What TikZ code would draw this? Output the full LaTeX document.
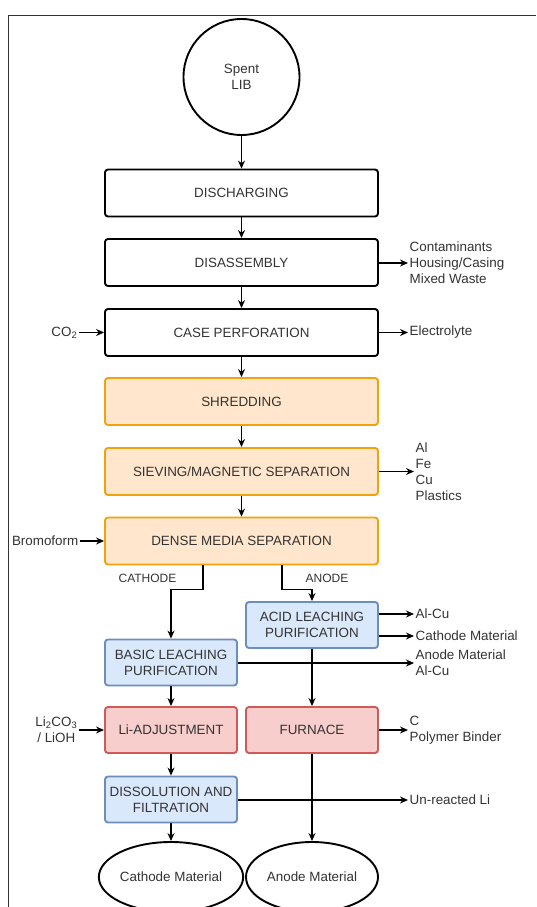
\documentclass[tikz,border=0pt]{standalone}
\usepackage{fontspec}
\setmainfont{Liberation Sans}
\usepackage{xcolor}
\usetikzlibrary{arrows.meta,positioning,calc,shapes.geometric}

\definecolor{txtgray}{HTML}{333333}
\definecolor{orfill}{HTML}{FFE6CC}
\definecolor{ordraw}{HTML}{F0A30A}
\definecolor{blfill}{HTML}{DAE8FC}
\definecolor{bldraw}{HTML}{6C8EBF}
\definecolor{rdfill}{HTML}{F8CECC}
\definecolor{rddraw}{HTML}{D0595A}

\begin{document}
\begin{tikzpicture}[x=1pt, y=-1pt,
    every node/.style={text=txtgray, font=\fontsize{13.4}{16}\selectfont},
    box/.style={rectangle, draw=black, line width=1.9pt, rounded corners=3pt,
                minimum width=273pt, minimum height=47pt, align=center, inner sep=2pt},
    sbox/.style={box, minimum width=132pt, minimum height=46pt},
    orbox/.style={fill=orfill, draw=ordraw},
    blbox/.style={fill=blfill, draw=bldraw},
    rdbox/.style={fill=rdfill, draw=rddraw},
    term/.style={ellipse, draw=black, line width=1.9pt, minimum width=132pt, minimum height=70pt, inner sep=0pt},
    arr/.style={-{Stealth[length=8pt,width=7pt]}, line width=1.1pt},
    outlbl/.style={anchor=west, align=left, inner sep=1.5pt},
    inlbl/.style={anchor=east, align=center, inner sep=1.5pt},
    lbl/.style={font=\fontsize{12}{14}\selectfont},
  ]
  \useasboundingbox (0,0) rectangle (536,907);

  % frame
  \draw[line width=1.5pt, black!80] (8.5,907) -- (8.5,15.5) -- (536,15.5);

  % main column
  \node[circle, draw=black, line width=1.9pt, minimum size=116pt, align=center] (lib) at (241.5,77) {Spent\\LIB};
  \node[box] (dis) at (241.5,193) {DISCHARGING};
  \node[box] (dsa) at (241.5,262.5) {DISASSEMBLY};
  \node[box] (perf) at (241.5,332.5) {CASE PERFORATION};
  \node[box, orbox] (shred) at (241.5,401.5) {SHREDDING};
  \node[box, orbox] (sieve) at (241.5,471.5) {SIEVING/MAGNETIC SEPARATION};
  \node[box, orbox] (dms) at (241.5,541) {DENSE MEDIA SEPARATION};

  % cathode and anode branches
  \node[sbox, blbox] (acid) at (312,625) {ACID LEACHING\\PURIFICATION};
  \node[sbox, blbox] (basic) at (171,662.5) {BASIC LEACHING\\PURIFICATION};
  \node[sbox, rdbox] (liadj) at (171,730) {Li-ADJUSTMENT};
  \node[sbox, rdbox] (furn) at (312,730) {FURNACE};
  \node[sbox, blbox] (diss) at (171,799.5) {DISSOLUTION AND\\FILTRATION};
  \node[term] (cmat) at (171,877) {Cathode Material};
  \node[term] (amat) at (312,877) {Anode Material};

  \node[lbl] (cat) at (147.5,578) {CATHODE};
  \node[lbl] (ano) at (327,578) {ANODE};

  % inputs
  \node[inlbl] (co2) at (79,332.5) {CO\textsubscript{2}};
  \node[inlbl] (brom) at (80,541) {Bromoform};
  \node[inlbl] (li) at (79,730) {Li\textsubscript{2}CO\textsubscript{3}\\/ LiOH};

  % outputs
  \node[outlbl] (waste) at (408,263) {Contaminants\\Housing/Casing\\Mixed Waste};
  \node[outlbl] (elec) at (408,332.5) {Electrolyte};
  \node[outlbl] (metal) at (414,471.5) {Al\\Fe\\Cu\\Plastics};
  \node[outlbl] (alcu) at (414,614) {Al-Cu};
  \node[outlbl] (cmout) at (414,636) {Cathode Material};
  \node[outlbl] (amout) at (414,663) {Anode Material\\Al-Cu};
  \node[outlbl] (binder) at (408,730) {C\\Polymer Binder};
  \node[outlbl] (unli) at (408,800) {Un-reacted Li};

  \draw[arr] (lib) -- (dis);
  \draw[arr] (dis) -- (dsa);
  \draw[arr] (dsa) -- (perf);
  \draw[arr] (perf) -- (shred);
  \draw[arr] (shred) -- (sieve);
  \draw[arr] (sieve) -- (dms);
  \draw[arr] ([xshift=-38.5pt]dms.south) -- ++(0,24) -| (basic.north);
  \draw[arr] ([xshift=40.5pt]dms.south) -- ++(0,24) -| (acid.north);
  \draw[arr] (basic) -- (liadj);
  \draw[arr] (liadj) -- (diss);
  \draw[arr] (diss) -- (cmat);
  \draw[arr] (acid) -- (furn);
  \draw[arr] (furn) -- (amat);

  \draw[arr] (co2) -- (perf);
  \draw[arr] (brom) -- (dms);
  \draw[arr] (li) -- (liadj);

  \draw[arr] (dsa.east |- waste) -- (waste);
  \draw[arr] (perf) -- (elec);
  \draw[arr] (sieve) -- (metal);
  \draw[arr] (acid.east |- alcu) -- (alcu);
  \draw[arr] (acid.east |- cmout) -- (cmout);
  \draw[arr] (basic.east |- amout) -- (amout);
  \draw[arr] (furn) -- (binder);
  \draw[arr] (diss.east |- unli) -- (unli);

\end{tikzpicture}
\end{document}
